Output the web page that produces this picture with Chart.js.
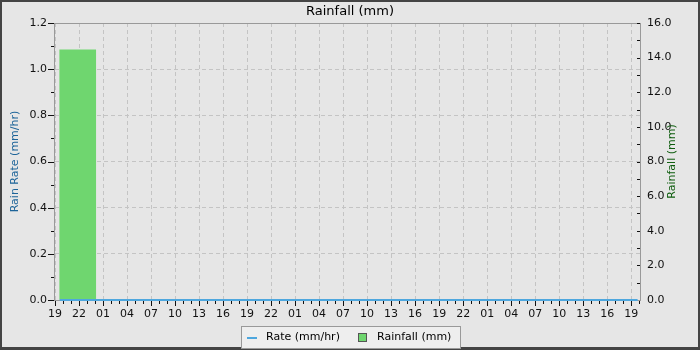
<!DOCTYPE html>
<html>
<head>
<meta charset="utf-8">
<script src="https://cdn.jsdelivr.net/npm/chart.js@4.4.1/dist/chart.umd.min.js"></script>
<style>
  html, body { margin: 0; padding: 0; background: #e6e6e6; }
  #wrap { width: 700px; height: 350px; }
</style>
</head>
<body>
<div id="wrap"><canvas id="rain" width="700" height="350"></canvas></div>
<script>
// Data
const chartTitle = 'Rainfall (mm)';
const rateLabel = 'Rate (mm/hr)';
const rainLabel = 'Rainfall (mm)';
const leftTitle = 'Rain Rate (mm/hr)';
const rightTitle = 'Rainfall (mm)';

// hours since 19:00 on the first day
const xTickLabels = ['19', '22', '01', '04', '07', '10', '13', '16',
  '19', '22', '01', '04', '07', '10', '13', '16',
  '19', '22', '01', '04', '07', '10', '13', '16', '19'];
const rateHours = [0.6, 12, 24, 36, 48, 60, 72.8];
const rateValues = [0, 0, 0, 0, 0, 0, 0];
const rainHours = [2.84];
const rainValues = [14.45];

const rateColor = '#4ea7de';
const rainColor = '#6fd66f';
const tickColor = '#111';

// Background, frame, titles, minor ticks and legend
const decor = {
  id: 'decor',
  beforeDraw(chart) {
    const ctx = chart.ctx;
    ctx.save();
    ctx.fillStyle = '#444';
    ctx.fillRect(0, 0, 700, 350);
    ctx.fillStyle = '#e6e6e6';
    ctx.fillRect(2, 2, 696, 345);
    ctx.restore();
  },
  beforeDatasetsDraw(chart) {
    const ctx = chart.ctx;
    const a = chart.chartArea;
    ctx.save();
    ctx.strokeStyle = '#999';
    ctx.lineWidth = 1;
    ctx.strokeRect(Math.round(a.left) - 0.5, Math.round(a.top) + 0.5,
      Math.round(a.right - a.left) + 1, Math.round(a.bottom - a.top));
    ctx.restore();
  },
  afterDraw(chart) {
    const ctx = chart.ctx;
    const a = chart.chartArea;
    const sx = chart.scales.x, sy = chart.scales.y, sy2 = chart.scales.y2;
    ctx.save();
    ctx.strokeStyle = tickColor;
    ctx.lineWidth = 1;
    ctx.beginPath();
    // x ticks: every hour, longer every 3 hours
    for (let h = 0; h <= Math.floor(sx.max); h++) {
      const px = Math.round(sx.getPixelForValue(h)) + 0.5;
      const len = h % 3 === 0 ? 5 : 3;
      ctx.moveTo(px, a.bottom + 1);
      ctx.lineTo(px, a.bottom + 1 + len);
    }
    // left ticks, outward
    for (let v = 0; v <= 12; v++) {
      const py = Math.round(sy.getPixelForValue(v / 10)) + 0.5;
      const len = v % 2 === 0 ? 6 : 3;
      ctx.moveTo(a.left - len - 1, py);
      ctx.lineTo(a.left - 1, py);
    }
    // right ticks, inward
    for (let v = 1; v <= 16; v++) {
      const py = Math.round(sy2.getPixelForValue(v)) + 0.5;
      ctx.moveTo(a.right - 3, py);
      ctx.lineTo(a.right, py);
    }
    ctx.stroke();

    // chart title
    ctx.fillStyle = '#000';
    ctx.font = '13px "DejaVu Sans"';
    ctx.textAlign = 'center';
    ctx.textBaseline = 'middle';
    ctx.fillText(chartTitle, 350, 12);

    // axis titles
    const midY = (a.top + a.bottom) / 2;
    ctx.font = '11px "DejaVu Sans"';
    ctx.save();
    ctx.translate(15, midY);
    ctx.rotate(-Math.PI / 2);
    ctx.fillStyle = '#1d6499';
    ctx.fillText(leftTitle, 0, 0);
    ctx.restore();
    ctx.save();
    ctx.translate(672, midY);
    ctx.rotate(-Math.PI / 2);
    ctx.fillStyle = '#0d5c0d';
    ctx.fillText(rightTitle, 0, 0);
    ctx.restore();

    // legend
    const ds = chart.data.datasets;
    ctx.fillStyle = '#eeeeee';
    ctx.fillRect(241.5, 326.5, 219, 22);
    ctx.strokeStyle = '#999';
    ctx.strokeRect(241.5, 326.5, 219, 22);
    ctx.textAlign = 'left';
    ctx.fillStyle = '#000';
    ctx.strokeStyle = ds[0].borderColor;
    ctx.lineWidth = 2;
    ctx.beginPath();
    ctx.moveTo(247, 338);
    ctx.lineTo(257, 338);
    ctx.stroke();
    ctx.fillText(ds[0].label, 266, 337);
    ctx.fillStyle = ds[1].backgroundColor;
    ctx.fillRect(358.5, 333.5, 8, 8);
    ctx.strokeStyle = '#555';
    ctx.lineWidth = 1;
    ctx.strokeRect(358.5, 333.5, 8, 8);
    ctx.fillStyle = '#000';
    ctx.fillText(ds[1].label, 377, 337);
    ctx.restore();
  }
};

const tickFont = { family: 'DejaVu Sans', size: 11 };

new Chart(document.getElementById('rain'), {
  data: {
    datasets: [
      {
        type: 'line',
        label: rateLabel,
        data: rateHours.map((h, i) => ({ x: h, y: rateValues[i] })),
        yAxisID: 'y',
        borderColor: rateColor,
        backgroundColor: rateColor,
        borderWidth: 2,
        pointRadius: 0,
        clip: 4,
        order: 0
      },
      {
        type: 'bar',
        label: rainLabel,
        data: rainHours.map((h, i) => ({ x: h, y: rainValues[i] })),
        yAxisID: 'y2',
        backgroundColor: rainColor,
        borderWidth: 0,
        barThickness: 36,
        order: 1
      }
    ]
  },
  options: {
    responsive: false,
    animation: false,
    layout: { padding: { top: 23, left: 0, right: 0, bottom: 0 } },
    plugins: {
      legend: { display: false },
      title: { display: false },
      tooltip: { enabled: false }
    },
    scales: {
      x: {
        type: 'linear',
        min: 0,
        max: 73.1,
        offset: false,
        afterFit(s) { s.height = 50; },
        grid: { color: '#c4c4c4', drawTicks: false, offset: false },
        border: { display: false, dash: [4, 3] },
        ticks: {
          stepSize: 3,
          includeBounds: false,
          autoSkip: false,
          maxRotation: 0,
          padding: 8,
          color: tickColor,
          font: tickFont,
          callback: (v) => xTickLabels[Math.round(v / 3)]
        }
      },
      y: {
        position: 'left',
        min: 0,
        max: 1.2,
        afterFit(s) { s.width = 55; },
        grid: { color: '#c4c4c4', drawTicks: false },
        border: { display: false, dash: [4, 3] },
        ticks: {
          stepSize: 0.2,
          padding: 8,
          color: tickColor,
          font: tickFont,
          callback: (v) => v.toFixed(1)
        }
      },
      y2: {
        position: 'right',
        min: 0,
        max: 16,
        afterFit(s) { s.width = 60; },
        grid: { drawOnChartArea: false, drawTicks: false },
        border: { display: false },
        ticks: {
          stepSize: 2,
          padding: 7,
          color: tickColor,
          font: tickFont,
          callback: (v) => v.toFixed(1)
        }
      }
    }
  },
  plugins: [decor]
});
</script>
</body>
</html>
